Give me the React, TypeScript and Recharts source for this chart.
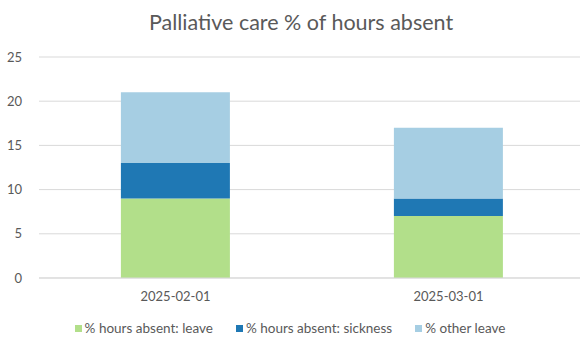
import React from 'react';
import { BarChart, Bar, XAxis, YAxis, CartesianGrid, Legend } from 'recharts';

// Monthly % of hours absent, split by reason
const months = ['2025-02-01', '2025-03-01'];
const leavePct = [9, 7];
const sicknessPct = [4, 2];
const otherLeavePct = [8, 8];
const yTicks = [0, 5, 10, 15, 20, 25];

const seriesNames = {
  leave: '% hours absent: leave',
  sickness: '% hours absent: sickness',
  other: '% other leave',
};

const colors = {
  leave: '#b2df8a',
  sickness: '#1f78b4',
  other: '#a6cee3',
};

const data = months.map((month, i) => ({
  month,
  leave: leavePct[i],
  sickness: sicknessPct[i],
  other: otherLeavePct[i],
}));

const font = 'Lato, "Open Sans", sans-serif';
const textColor = '#595959';

function LegendRow({ payload }: any) {
  return (
    <div style={{ display: 'flex', justifyContent: 'center', gap: 23, fontFamily: font, fontSize: 13.5, color: textColor }}>
      {(payload || []).map((p: any) => (
        <span key={p.value} style={{ display: 'flex', alignItems: 'center' }}>
          <span style={{ width: 7, height: 7, background: p.color, marginRight: 3, display: 'inline-block' }} />
          {p.value}
        </span>
      ))}
    </div>
  );
}

export default function App() {
  return (
    <div style={{ position: 'absolute', left: 0, top: 0, width: 580, height: 338, background: '#fff', overflow: 'hidden' }}>
      <div
        style={{
          position: 'absolute',
          top: 9,
          left: 0,
          width: 602,
          textAlign: 'center',
          fontFamily: font,
          fontSize: 21.5,
          color: textColor,
        }}
      >
        Palliative care % of hours absent
      </div>
      <BarChart
        width={580}
        height={338}
        data={data}
        margin={{ top: 57, right: -5, bottom: 14, left: 0 }}
        barCategoryGap="30%"
      >
        <CartesianGrid vertical={false} stroke="#d9d9d9" />
        <XAxis
          dataKey="month"
          axisLine={{ stroke: '#d9d9d9' }}
          tickLine={false}
          tick={{ fill: textColor, fontSize: 13, fontFamily: font }}
          tickMargin={8}
        />
        <YAxis
          width={39}
          domain={[0, 25]}
          ticks={yTicks}
          axisLine={false}
          tickLine={false}
          tickSize={0}
          tickMargin={17}
          tick={{ fill: textColor, fontSize: 13, fontFamily: font }}
        />
        <Legend
          verticalAlign="bottom"
          wrapperStyle={{ bottom: 2, left: 0, width: 580 }}
          content={<LegendRow />}
        />
        <Bar dataKey="leave" name={seriesNames.leave} stackId="a" fill={colors.leave} isAnimationActive={false} />
        <Bar dataKey="sickness" name={seriesNames.sickness} stackId="a" fill={colors.sickness} isAnimationActive={false} />
        <Bar dataKey="other" name={seriesNames.other} stackId="a" fill={colors.other} isAnimationActive={false} />
      </BarChart>
    </div>
  );
}
